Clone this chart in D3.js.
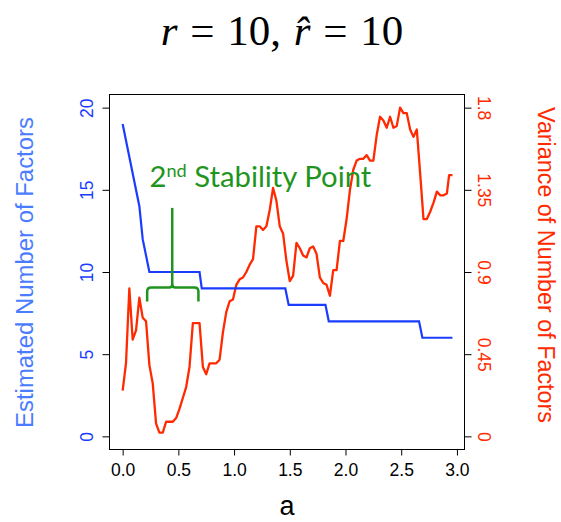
<!DOCTYPE html>
<meta charset="utf-8">
<head>
	<style type="text/css">
		body { margin: 0; background: #fff; }
		.tick line { stroke: #000; }
		.tick text { font-family: "Liberation Sans", Arial, sans-serif; font-size: 17.5px; }
		.axis-label { font-family: "Liberation Sans", Arial, sans-serif; }
	</style>
	<title>Stability of estimated number of factors</title>
</head>
<script src="https://cdn.jsdelivr.net/npm/d3@7"></script>
<svg width="561" height="522" id="svg1"></svg>

<script>
	// estimated number of factors (left axis), step line
	const factorA = [0, 0.15, 0.18, 0.24, 0.69, 0.71, 1.46, 1.49, 1.82, 1.85, 2.66, 2.69, 2.96];
	const factorN = [19, 14, 12, 10, 10, 9, 9, 8, 8, 7, 7, 6, 6];

	// variance of number of factors (right axis)
	const varA = [0, 0.03, 0.06, 0.09, 0.12, 0.15, 0.18, 0.21, 0.24, 0.27,
		0.30, 0.33, 0.36, 0.39, 0.42, 0.45, 0.48, 0.51, 0.54, 0.57,
		0.60, 0.63, 0.66, 0.69, 0.72, 0.75, 0.78, 0.81, 0.84, 0.87,
		0.90, 0.93, 0.96, 0.99, 1.02, 1.05, 1.08, 1.11, 1.14, 1.17,
		1.20, 1.23, 1.26, 1.29, 1.32, 1.35, 1.38, 1.41, 1.44, 1.47,
		1.50, 1.53, 1.56, 1.59, 1.62, 1.65, 1.68, 1.71, 1.74, 1.77,
		1.80, 1.83, 1.86, 1.89, 1.92, 1.95, 1.98, 2.01, 2.04, 2.07,
		2.10, 2.13, 2.16, 2.19, 2.22, 2.25, 2.28, 2.31, 2.34, 2.37,
		2.40, 2.43, 2.46, 2.49, 2.52, 2.55, 2.58, 2.61, 2.64, 2.67,
		2.70, 2.73, 2.76, 2.79, 2.82, 2.85, 2.88, 2.91, 2.93, 2.96];
	const varV = [0.25, 0.40, 0.81, 0.53, 0.58, 0.76, 0.65, 0.63, 0.39, 0.29,
		0.07, 0.02, 0.02, 0.08, 0.08, 0.08, 0.10, 0.15, 0.21, 0.27,
		0.38, 0.62, 0.62, 0.62, 0.38, 0.34, 0.40, 0.40, 0.40, 0.42,
		0.57, 0.68, 0.74, 0.75, 0.83, 0.86, 0.87, 0.90, 0.94, 0.97,
		1.15, 1.15, 1.13, 1.15, 1.24, 1.36, 1.29, 1.15, 1.11, 0.96,
		0.85, 0.88, 1.06, 1.03, 0.99, 0.98, 1.03, 1.04, 1.00, 0.87,
		0.84, 0.83, 0.77, 0.91, 0.91, 1.07, 1.07, 1.19, 1.35, 1.46,
		1.51, 1.52, 1.52, 1.54, 1.51, 1.51, 1.65, 1.75, 1.73, 1.69,
		1.75, 1.69, 1.70, 1.80, 1.77, 1.77, 1.68, 1.64, 1.68, 1.44,
		1.19, 1.19, 1.23, 1.28, 1.34, 1.32, 1.32, 1.33, 1.43, 1.43];

	const xTicks = [0, 0.5, 1, 1.5, 2, 2.5, 3];
	const leftTicks = [0, 5, 10, 15, 20];
	const rightTicks = [0, 0.45, 0.9, 1.35, 1.8];

	// annotation: brace over the second stable run (a, factor units)
	const braceA = [0.22, 0.445, 0.68];
	const braceN = [8.2, 9.05, 13.9];
	const noteA = 0.24, noteN = 15.2;

	const svg1 = d3.select('#svg1');
	const box = { left: 109.5, right: 464.5, top: 94.5, bottom: 449.5 };

	const blue = '#1a3cff', red = '#ff2a00', green = '#1f951f';

	const xScale = d3.scaleLinear().domain([-0.118, 3.068]).range([box.left, box.right]);
	const yLeft = d3.scaleLinear().domain([-0.8, 20.8]).range([box.bottom, box.top]);
	const yRight = d3.scaleLinear().domain([-0.072, 1.872]).range([box.bottom, box.top]);

	const fit = (sel, target) => {
		const len = sel.node().getComputedTextLength();
		const fs = parseFloat(sel.attr('font-size'));
		sel.attr('font-size', fs * target / len);
	};

	// title
	const title = svg1.append('text')
		.attr('x', 282).attr('y', 45)
		.attr('text-anchor', 'middle')
		.attr('font-family', '"Liberation Serif", "Times New Roman", serif')
		.attr('font-size', 43)
		.attr('word-spacing', 2);
	title.append('tspan').attr('font-style', 'italic').text('r');
	title.append('tspan').text(' = 10, ');
	title.append('tspan').attr('font-style', 'italic').text('r\u0302');
	title.append('tspan').text(' = 10');

	// lines
	const g = svg1.append('g');
	const leftLine = d3.line().x(d => xScale(d[0])).y(d => yLeft(d[1]));
	const rightLine = d3.line().x(d => xScale(d[0])).y(d => yRight(d[1]));

	g.append('path')
		.datum(varA.map((a, i) => [a, varV[i]]))
		.attr('d', rightLine)
		.attr('fill', 'none').attr('stroke', red).attr('stroke-width', 2.3)
		.attr('stroke-linejoin', 'round');

	g.append('path')
		.datum(factorA.map((a, i) => [a, factorN[i]]))
		.attr('d', leftLine)
		.attr('fill', 'none').attr('stroke', blue).attr('stroke-width', 2.2);

	// brace + pointer
	const bx0 = xScale(braceA[0]), bxm = xScale(braceA[1]), bx1 = xScale(braceA[2]);
	const byEnd = yLeft(braceN[0]), byBar = yLeft(braceN[1]), byTop = yLeft(braceN[2]);
	const r = 4;
	const p = d3.path();
	p.moveTo(bx0, byEnd);
	p.lineTo(bx0, byBar + r);
	p.quadraticCurveTo(bx0, byBar, bx0 + r, byBar);
	p.lineTo(bxm - 3, byBar);
	p.quadraticCurveTo(bxm, byBar, bxm, byBar - 3);
	p.quadraticCurveTo(bxm, byBar, bxm + 3, byBar);
	p.lineTo(bx1 - r, byBar);
	p.quadraticCurveTo(bx1, byBar, bx1, byBar + r);
	p.lineTo(bx1, byEnd);
	g.append('path').attr('d', p.toString())
		.attr('fill', 'none').attr('stroke', green).attr('stroke-width', 2.5);
	g.append('line')
		.attr('x1', bxm).attr('x2', bxm)
		.attr('y1', byTop).attr('y2', byBar)
		.attr('stroke', green).attr('stroke-width', 2.5);

	const note = g.append('text')
		.attr('x', xScale(noteA)).attr('y', yLeft(noteN))
		.attr('font-family', 'Lato, "Open Sans", sans-serif')
		.attr('font-size', 26)
		.attr('fill', green);
	note.append('tspan').text('2');
	note.append('tspan').attr('font-size', 16).attr('dy', -10).text('nd');
	note.append('tspan').attr('dy', 10).text(' Stability Point');
	fit(note, 222);
	note.selectAll('tspan').filter((d, i) => i === 1).attr('font-size', null)
		.style('font-size', '0.62em');

	// box
	svg1.append('rect')
		.attr('x', box.left).attr('y', box.top)
		.attr('width', box.right - box.left).attr('height', box.bottom - box.top)
		.attr('fill', 'none').attr('stroke', '#000').attr('stroke-width', 1);

	// axes
	const xAxisG = svg1.append('g')
		.attr('transform', `translate(0,${box.bottom})`)
		.call(d3.axisBottom(xScale).tickValues(xTicks).tickSize(6).tickFormat(d3.format('.1f')));
	xAxisG.select('.domain').remove();
	xAxisG.selectAll('text').attr('y', 26.5).attr('dy', 0).attr('fill', '#000');

	const yLeftG = svg1.append('g')
		.attr('transform', `translate(${box.left},0)`)
		.call(d3.axisLeft(yLeft).tickValues(leftTicks).tickSize(7));
	yLeftG.select('.domain').remove();
	yLeftG.selectAll('text')
		.attr('transform', 'rotate(-90)')
		.attr('x', 0).attr('y', -17).attr('dy', 0)
		.attr('text-anchor', 'middle')
		.attr('fill', blue);

	const yRightG = svg1.append('g')
		.attr('transform', `translate(${box.right},0)`)
		.call(d3.axisRight(yRight).tickValues(rightTicks).tickSize(7).tickFormat(d => String(d)));
	yRightG.select('.domain').remove();
	yRightG.selectAll('text')
		.attr('transform', 'rotate(90)')
		.attr('x', 0).attr('y', -13.5).attr('dy', 0)
		.attr('text-anchor', 'middle')
		.attr('fill', red);

	// axis titles
	const lt = svg1.append('text')
		.attr('class', 'axis-label')
		.attr('transform', 'translate(33,272.5) rotate(-90)')
		.attr('text-anchor', 'middle')
		.attr('font-size', 22)
		.attr('fill', '#4a7cff')
		.text('Estimated Number of Factors');
	fit(lt, 311);

	const rt = svg1.append('text')
		.attr('class', 'axis-label')
		.attr('transform', 'translate(538,265) rotate(90)')
		.attr('text-anchor', 'middle')
		.attr('font-size', 22)
		.attr('fill', red)
		.text('Variance of Number of Factors');
	fit(rt, 316);

	svg1.append('text')
		.attr('class', 'axis-label')
		.attr('x', (box.left + box.right) / 2).attr('y', 515)
		.attr('text-anchor', 'middle')
		.attr('font-size', 27)
		.attr('fill', '#000')
		.text('a');
</script>
